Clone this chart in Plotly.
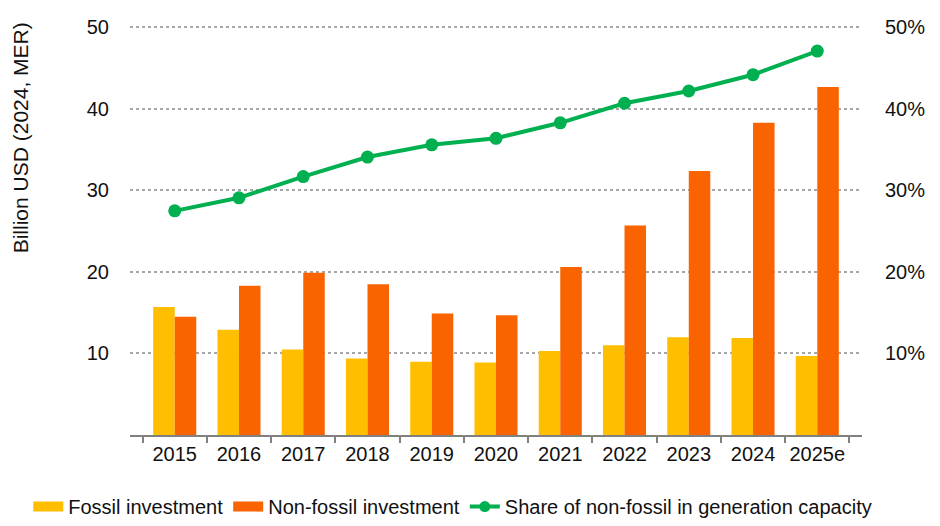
import plotly.graph_objects as go

# data
years = ["2015", "2016", "2017", "2018", "2019", "2020", "2021", "2022", "2023", "2024", "2025e"]
fossil = [15.7, 12.9, 10.5, 9.4, 9.0, 8.9, 10.3, 11.0, 12.0, 11.9, 9.7]
non_fossil = [14.5, 18.3, 19.9, 18.5, 14.9, 14.7, 20.6, 25.7, 32.4, 38.3, 42.7]
share_pct = [27.5, 29.1, 31.7, 34.1, 35.6, 36.4, 38.3, 40.7, 42.2, 44.2, 47.1]

left_ticks = [10, 20, 30, 40, 50]
right_ticks = [10, 20, 30, 40, 50]
right_labels = ["10%", "20%", "30%", "40%", "50%"]

YELLOW = "#FFBF00"
ORANGE = "#F96400"
GREEN = "#00B050"
FONT = "Liberation Sans, Arial, sans-serif"

fig = go.Figure()

fig.add_trace(go.Bar(x=years, y=fossil, name="Fossil investment",
                     marker=dict(color=YELLOW, line=dict(width=0)), showlegend=False))
fig.add_trace(go.Bar(x=years, y=non_fossil, name="Non-fossil investment",
                     marker=dict(color=ORANGE, line=dict(width=0)), showlegend=False))
fig.add_trace(go.Scatter(x=years, y=share_pct, name="Share of non-fossil in generation capacity",
                         mode="lines+markers", yaxis="y2", showlegend=False,
                         line=dict(color=GREEN, width=4), marker=dict(color=GREEN, size=13)))

# legend entries with wide swatches, like the original
fig.add_trace(go.Scatter(x=[None], y=[None], mode="lines", name="Fossil investment",
                         line=dict(color=YELLOW, width=10)))
fig.add_trace(go.Scatter(x=[None], y=[None], mode="lines", name="Non-fossil investment",
                         line=dict(color=ORANGE, width=10)))
fig.add_trace(go.Scatter(x=[None], y=[None], mode="lines+markers",
                         name="Share of non-fossil in generation capacity",
                         line=dict(color=GREEN, width=4), marker=dict(color=GREEN, size=11)))

# page body adds an 8px margin, so the figure is sized to fit inside the window
fig.update_layout(
    width=932, height=518,
    margin=dict(l=122, r=78, t=17, b=91, autoexpand=False),
    paper_bgcolor="white", plot_bgcolor="white",
    font=dict(family=FONT, size=20, color="#111111"),
    barmode="group", bargap=0.33, bargroupgap=0,
    xaxis=dict(
        showline=True, linecolor="#808080", linewidth=1.5, tickangle=0,
        ticks="outside", tickson="boundaries", ticklen=6, tickcolor="#808080",
        tickwidth=1.5, showgrid=False,
    ),
    yaxis=dict(
        range=[0, 50.3], tickvals=left_ticks, showline=False, ticks="",
        showgrid=True, gridcolor="#a6a6a6", gridwidth=1.5, griddash="dot",
        zeroline=False, ticklabelstandoff=20,
    ),
    yaxis2=dict(
        range=[0, 50.3], tickvals=right_ticks, ticktext=right_labels,
        overlaying="y", side="right",
        showgrid=False, showline=False, ticks="", zeroline=False, ticklabelstandoff=22,
    ),
    legend=dict(orientation="h", x=-0.139, xanchor="left", y=-0.127, yanchor="top",
                font=dict(size=20), itemwidth=30, traceorder="normal"),
    annotations=[dict(
        text="Billion USD (2024, MER)", textangle=-90, showarrow=False,
        xref="paper", yref="paper", x=-0.1503, y=0.726,
        xanchor="center", yanchor="middle", font=dict(size=21),
    )],
)

fig.write_html("out.html")
